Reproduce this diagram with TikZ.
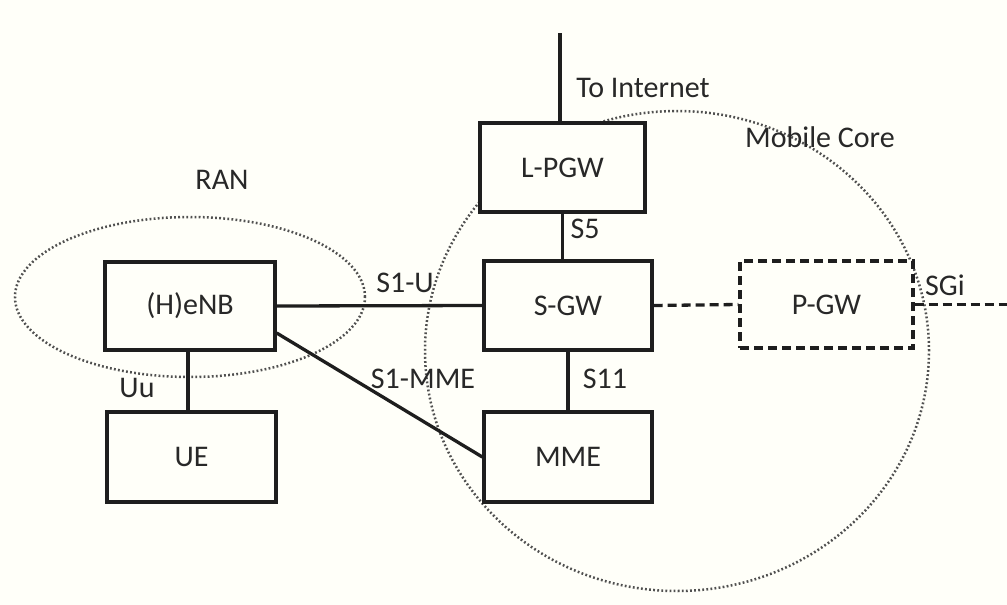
\documentclass[tikz,border=0pt]{standalone}
\usepackage{fontspec}
\setmainfont{Carlito}
\usepackage{tikz}
\usetikzlibrary{shapes.geometric, positioning}
\definecolor{bgcream}{RGB}{255,255,249}
\definecolor{linegray}{RGB}{30,30,30}
\definecolor{zonegray}{RGB}{80,80,80}
\definecolor{txtgray}{RGB}{40,40,40}
\tikzset{
  % Network element boxes
  netbox/.style={
    rectangle, draw=linegray, fill=bgcream, text=txtgray,
    minimum width=168pt, minimum height=89pt, inner sep=0pt,
    font=\fontsize{30}{33}\selectfont, line width=3.3pt,
  },
  % Optional element (dashed)
  optbox/.style={netbox, dash pattern=on 9pt off 5pt},
  % Dotted domains
  zone/.style={
    ellipse, draw=zonegray, inner sep=0pt,
    line width=2.5pt, dash pattern=on 1.8pt off 2.3pt,
  },
  % Interfaces
  link/.style={draw=linegray, line width=3.3pt},
  optlink/.style={link, dash pattern=on 9pt off 5pt},
  % Labels
  lbl/.style={font=\fontsize{30}{33}\selectfont, text=txtgray, inner sep=0pt},
}

\begin{document}
\begin{tikzpicture}[x=1pt, y=-1pt]

  % Canvas
  \fill[bgcream] (0,0) rectangle (1007,605);
  \useasboundingbox (0,0) rectangle (1007,605);

  % Domains
  \node[zone, minimum width=350pt, minimum height=160pt] (ran) at (190,297) {};
  \node[zone, minimum width=504pt, minimum height=480pt] (core) at (677,351) {};
  \node[lbl] (ranlbl) at (222,180) {RAN};
  \node[lbl] (corelbl) at (820,137) {Mobile Core};

  % Radio side
  \node[netbox, minimum width=170pt, minimum height=88pt] (enb) at (190,306) {(H)eNB};
  \node[netbox, minimum width=169pt, minimum height=90pt] (ue) at (191.5,457) {UE};

  % Core side
  \node[netbox, minimum width=165pt] (lpgw) at (562.5,167.5) {L-PGW};
  \node[netbox] (sgw) at (568,305.5) {S-GW};
  \node[netbox, minimum height=90pt] (mme) at (568,457) {MME};
  \node[optbox, minimum width=173pt, minimum height=87pt] (pgw) at (826.5,304.5) {P-GW};

  % Open ends
  \coordinate (inet) at (560,33);
  \coordinate (sgiend) at (1007,304.5);

  % Interfaces
  \draw[link] (enb.south -| 188,0) -- (ue.north -| 188,0);
  \draw[link] (enb.east) -- (sgw.west);
  \draw[link] ([yshift=-27pt]enb.east) -- (mme.west);
  \draw[link] (lpgw.south) -- (lpgw.south |- sgw.north);
  \draw[link] (sgw) -- (mme);
  \draw[link] (lpgw.north -| inet) -- (inet);
  \draw[optlink] (sgw.east) -- (pgw.west);
  \draw[optlink] (pgw.east) -- (sgiend);

  % Interface labels
  \node[lbl] (uulbl) at (137,388) {Uu};
  \node[lbl] (s1ulbl) at (405,283) {S1-U};
  \node[lbl] (s1mmelbl) at (423,379) {S1-MME};
  \node[lbl] (s5lbl) at (585,229) {S5};
  \node[lbl] (s11lbl) at (605,379) {S11};
  \node[lbl] (sgilbl) at (945,285) {SGi};
  \node[lbl] (inetlbl) at (643,88) {To Internet};

\end{tikzpicture}
\end{document}
